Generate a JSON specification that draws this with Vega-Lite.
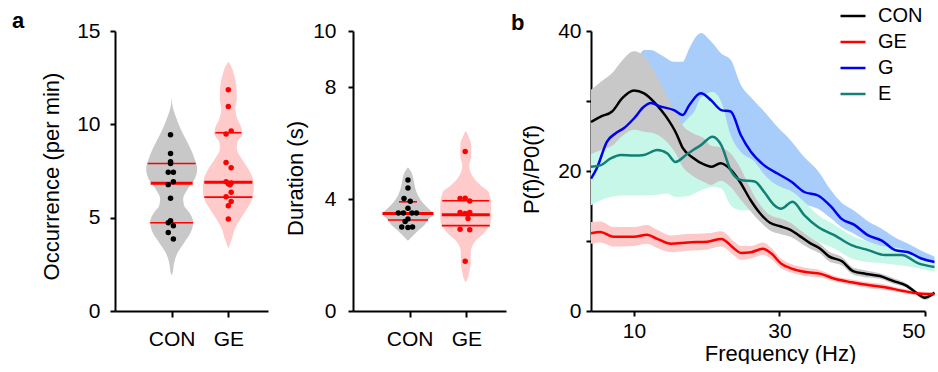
{
  "$schema": "https://vega.github.io/schema/vega-lite/v6.json",
  "background": "white",
  "padding": {"left": 12, "top": 2, "right": 0, "bottom": 0},
  "bounds": "flush",
  "spacing": 85,
  "config": {
    "view": {"stroke": null},
    "font": "Liberation Sans",
    "axis": {"grid": false, "domainColor": "black", "domainWidth": 2, "tickColor": "black", "tickWidth": 2, "tickSize": 5, "labelColor": "black", "labelFontSize": 21, "titleFontSize": 22, "titleFontWeight": "normal", "titleColor": "black", "labelFont": "Liberation Sans", "titleFont": "Liberation Sans"}
  },
  "datasets": {
    "occV": [
      {"g": "CON", "v": 1.9, "w": 0}, {"g": "CON", "v": 2.05, "w": 0.035}, {"g": "CON", "v": 2.59, "w": 0.088}, {"g": "CON", "v": 3.13, "w": 0.212}, {"g": "CON", "v": 3.66, "w": 0.441}, {"g": "CON", "v": 4.2, "w": 0.671}, {"g": "CON", "v": 4.75, "w": 0.759}, {"g": "CON", "v": 5.29, "w": 0.618}, {"g": "CON", "v": 5.64, "w": 0.441}, {"g": "CON", "v": 6.0, "w": 0.406}, {"g": "CON", "v": 6.54, "w": 0.565}, {"g": "CON", "v": 7.07, "w": 0.812}, {"g": "CON", "v": 7.61, "w": 0.9}, {"g": "CON", "v": 8.14, "w": 0.812}, {"g": "CON", "v": 8.68, "w": 0.671}, {"g": "CON", "v": 9.21, "w": 0.494}, {"g": "CON", "v": 9.75, "w": 0.318}, {"g": "CON", "v": 10.29, "w": 0.176}, {"g": "CON", "v": 10.82, "w": 0.053}, {"g": "CON", "v": 11.46, "w": 0},
      {"g": "GE", "v": 3.35, "w": 0}, {"g": "GE", "v": 3.5, "w": 0.035}, {"g": "GE", "v": 3.86, "w": 0.124}, {"g": "GE", "v": 4.39, "w": 0.229}, {"g": "GE", "v": 4.93, "w": 0.424}, {"g": "GE", "v": 5.46, "w": 0.653}, {"g": "GE", "v": 6.0, "w": 0.847}, {"g": "GE", "v": 6.54, "w": 0.9}, {"g": "GE", "v": 7.07, "w": 0.865}, {"g": "GE", "v": 7.61, "w": 0.706}, {"g": "GE", "v": 8.14, "w": 0.476}, {"g": "GE", "v": 8.68, "w": 0.3}, {"g": "GE", "v": 9.04, "w": 0.318}, {"g": "GE", "v": 9.48, "w": 0.494}, {"g": "GE", "v": 9.75, "w": 0.476}, {"g": "GE", "v": 10.29, "w": 0.318}, {"g": "GE", "v": 10.82, "w": 0.247}, {"g": "GE", "v": 11.36, "w": 0.3}, {"g": "GE", "v": 12.07, "w": 0.282}, {"g": "GE", "v": 12.6, "w": 0.212}, {"g": "GE", "v": 13.14, "w": 0.088}, {"g": "GE", "v": 13.35, "w": 0}
    ],
    "occL": [
      {"g": "CON", "v": 7.9, "w": 0.847, "pos": 1, "k": "q"}, {"g": "CON", "v": 6.85, "w": 0.741, "pos": 1, "k": "m"}, {"g": "CON", "v": 4.73, "w": 0.759, "pos": 1, "k": "q"},
      {"g": "GE", "v": 9.55, "w": 0.459, "pos": 2, "k": "q"}, {"g": "GE", "v": 6.9, "w": 0.847, "pos": 2, "k": "m"}, {"g": "GE", "v": 6.1, "w": 0.847, "pos": 2, "k": "q"}
    ],
    "occP": [
      {"g": "CON", "v": 9.44, "x": 0.98}, {"g": "CON", "v": 8.44, "x": 0.98}, {"g": "CON", "v": 8.0, "x": 0.98}, {"g": "CON", "v": 7.9, "x": 0.98}, {"g": "CON", "v": 7.43, "x": 0.94}, {"g": "CON", "v": 7.43, "x": 1.03}, {"g": "CON", "v": 6.93, "x": 1.03}, {"g": "CON", "v": 6.77, "x": 0.94}, {"g": "CON", "v": 6.04, "x": 0.98}, {"g": "CON", "v": 4.84, "x": 0.98}, {"g": "CON", "v": 4.73, "x": 0.94}, {"g": "CON", "v": 4.57, "x": 1.03}, {"g": "CON", "v": 4.2, "x": 0.94}, {"g": "CON", "v": 3.86, "x": 1.03},
      {"g": "GE", "v": 11.85, "x": 2.0}, {"g": "GE", "v": 10.95, "x": 2.0}, {"g": "GE", "v": 9.65, "x": 2.05}, {"g": "GE", "v": 9.48, "x": 1.96}, {"g": "GE", "v": 7.95, "x": 1.96}, {"g": "GE", "v": 7.68, "x": 2.05}, {"g": "GE", "v": 6.93, "x": 1.96}, {"g": "GE", "v": 6.82, "x": 2.0}, {"g": "GE", "v": 6.76, "x": 2.03}, {"g": "GE", "v": 6.86, "x": 2.05}, {"g": "GE", "v": 6.36, "x": 2.05}, {"g": "GE", "v": 6.12, "x": 1.96}, {"g": "GE", "v": 5.86, "x": 2.05}, {"g": "GE", "v": 5.64, "x": 2.0}, {"g": "GE", "v": 4.93, "x": 2.0}
    ],
    "durV": [
      {"g": "CON", "v": 2.51, "w": 0}, {"g": "CON", "v": 2.65, "w": 0.141}, {"g": "CON", "v": 2.83, "w": 0.318}, {"g": "CON", "v": 3.05, "w": 0.565}, {"g": "CON", "v": 3.29, "w": 0.741}, {"g": "CON", "v": 3.46, "w": 0.9}, {"g": "CON", "v": 3.64, "w": 0.741}, {"g": "CON", "v": 3.9, "w": 0.494}, {"g": "CON", "v": 4.25, "w": 0.3}, {"g": "CON", "v": 4.6, "w": 0.212}, {"g": "CON", "v": 4.95, "w": 0.124}, {"g": "CON", "v": 5.13, "w": 0},
      {"g": "GE", "v": 1.03, "w": 0}, {"g": "GE", "v": 1.08, "w": 0.035}, {"g": "GE", "v": 1.38, "w": 0.124}, {"g": "GE", "v": 1.74, "w": 0.176}, {"g": "GE", "v": 2.1, "w": 0.176}, {"g": "GE", "v": 2.45, "w": 0.3}, {"g": "GE", "v": 2.81, "w": 0.671}, {"g": "GE", "v": 3.29, "w": 0.9}, {"g": "GE", "v": 3.76, "w": 0.9}, {"g": "GE", "v": 4.24, "w": 0.812}, {"g": "GE", "v": 4.48, "w": 0.529}, {"g": "GE", "v": 4.83, "w": 0.229}, {"g": "GE", "v": 5.19, "w": 0.124}, {"g": "GE", "v": 5.55, "w": 0.194}, {"g": "GE", "v": 5.9, "w": 0.194}, {"g": "GE", "v": 6.26, "w": 0.088}, {"g": "GE", "v": 6.44, "w": 0}
    ],
    "durL": [
      {"g": "CON", "v": 3.9, "w": 0.318, "pos": 0.97, "k": "q"}, {"g": "CON", "v": 3.48, "w": 0.9, "pos": 0.97, "k": "m"}, {"g": "CON", "v": 3.25, "w": 0.706, "pos": 0.97, "k": "q"},
      {"g": "GE", "v": 3.94, "w": 0.829, "pos": 1.99, "k": "q"}, {"g": "GE", "v": 3.44, "w": 0.847, "pos": 1.99, "k": "m"}, {"g": "GE", "v": 3.05, "w": 0.847, "pos": 1.99, "k": "q"}
    ],
    "durP": [
      {"g": "CON", "v": 4.68, "x": 0.97}, {"g": "CON", "v": 4.39, "x": 0.97}, {"g": "CON", "v": 4.02, "x": 0.9}, {"g": "CON", "v": 3.92, "x": 1.01}, {"g": "CON", "v": 3.67, "x": 0.97}, {"g": "CON", "v": 3.5, "x": 0.8}, {"g": "CON", "v": 3.5, "x": 0.89}, {"g": "CON", "v": 3.5, "x": 1.04}, {"g": "CON", "v": 3.5, "x": 1.12}, {"g": "CON", "v": 3.29, "x": 0.97}, {"g": "CON", "v": 3.2, "x": 0.92}, {"g": "CON", "v": 3.0, "x": 0.86}, {"g": "CON", "v": 2.98, "x": 0.97}, {"g": "CON", "v": 3.0, "x": 1.05},
      {"g": "GE", "v": 5.7, "x": 1.98}, {"g": "GE", "v": 4.02, "x": 1.89}, {"g": "GE", "v": 4.03, "x": 1.98}, {"g": "GE", "v": 3.93, "x": 2.06}, {"g": "GE", "v": 3.52, "x": 1.89}, {"g": "GE", "v": 3.48, "x": 1.98}, {"g": "GE", "v": 3.52, "x": 2.06}, {"g": "GE", "v": 3.3, "x": 2.03}, {"g": "GE", "v": 2.92, "x": 1.89}, {"g": "GE", "v": 2.9, "x": 2.06}, {"g": "GE", "v": 1.78, "x": 1.98}
    ],
    "psd": [
      {"g": "CON", "f": 4.1, "m": 27.0, "lo": 22.4, "hi": 31.6}, {"g": "CON", "f": 5.5, "m": 27.8, "lo": 23.0, "hi": 32.8}, {"g": "CON", "f": 7.0, "m": 28.5, "lo": 23.6, "hi": 34.0}, {"g": "CON", "f": 8.4, "m": 30.4, "lo": 25.0, "hi": 35.8}, {"g": "CON", "f": 10.0, "m": 31.5, "lo": 25.9, "hi": 37.1}, {"g": "CON", "f": 11.4, "m": 31.1, "lo": 25.6, "hi": 36.4}, {"g": "CON", "f": 13.0, "m": 29.6, "lo": 25.3, "hi": 33.8}, {"g": "CON", "f": 14.4, "m": 27.8, "lo": 24.3, "hi": 31.0}, {"g": "CON", "f": 15.8, "m": 25.4, "lo": 22.4, "hi": 28.2}, {"g": "CON", "f": 16.7, "m": 23.3, "lo": 20.6, "hi": 26.5}, {"g": "CON", "f": 18.1, "m": 21.9, "lo": 19.3, "hi": 25.4}, {"g": "CON", "f": 19.7, "m": 20.9, "lo": 18.4, "hi": 24.6}, {"g": "CON", "f": 20.6, "m": 20.6, "lo": 18.0, "hi": 23.6}, {"g": "CON", "f": 21.9, "m": 21.1, "lo": 18.6, "hi": 23.4}, {"g": "CON", "f": 23.3, "m": 20.2, "lo": 17.7, "hi": 22.5}, {"g": "CON", "f": 24.6, "m": 18.4, "lo": 16.0, "hi": 20.5}, {"g": "CON", "f": 26.0, "m": 15.9, "lo": 14.3, "hi": 17.5}, {"g": "CON", "f": 27.3, "m": 14.0, "lo": 12.8, "hi": 15.2}, {"g": "CON", "f": 28.7, "m": 12.6, "lo": 11.5, "hi": 13.7}, {"g": "CON", "f": 30.1, "m": 12.1, "lo": 11.0, "hi": 13.2}, {"g": "CON", "f": 31.5, "m": 11.6, "lo": 10.6, "hi": 12.6}, {"g": "CON", "f": 32.8, "m": 10.7, "lo": 9.8, "hi": 11.6}, {"g": "CON", "f": 34.2, "m": 9.7, "lo": 8.9, "hi": 10.5}, {"g": "CON", "f": 35.6, "m": 8.9, "lo": 8.2, "hi": 9.6}, {"g": "CON", "f": 36.8, "m": 7.8, "lo": 7.1, "hi": 8.5}, {"g": "CON", "f": 38.6, "m": 7.1, "lo": 6.5, "hi": 7.7}, {"g": "CON", "f": 40.1, "m": 5.7, "lo": 5.2, "hi": 6.2}, {"g": "CON", "f": 41.9, "m": 5.3, "lo": 4.8, "hi": 5.8}, {"g": "CON", "f": 43.8, "m": 5.0, "lo": 4.6, "hi": 5.4}, {"g": "CON", "f": 45.6, "m": 4.3, "lo": 3.9, "hi": 4.7}, {"g": "CON", "f": 47.5, "m": 3.6, "lo": 3.3, "hi": 3.9}, {"g": "CON", "f": 48.8, "m": 2.6, "lo": 2.3, "hi": 2.9}, {"g": "CON", "f": 50.0, "m": 1.9, "lo": 1.6, "hi": 2.2}, {"g": "CON", "f": 51.3, "m": 2.6, "lo": 2.3, "hi": 2.9},
      {"g": "GE", "f": 4.1, "m": 11.1, "lo": 9.6, "hi": 12.7}, {"g": "GE", "f": 5.4, "m": 11.3, "lo": 9.8, "hi": 12.8}, {"g": "GE", "f": 7.2, "m": 10.6, "lo": 9.2, "hi": 12.0}, {"g": "GE", "f": 10.0, "m": 10.6, "lo": 9.3, "hi": 12.0}, {"g": "GE", "f": 11.8, "m": 10.9, "lo": 9.6, "hi": 12.3}, {"g": "GE", "f": 13.2, "m": 10.3, "lo": 9.0, "hi": 11.6}, {"g": "GE", "f": 15.1, "m": 9.6, "lo": 8.4, "hi": 10.8}, {"g": "GE", "f": 17.4, "m": 9.8, "lo": 8.6, "hi": 11.0}, {"g": "GE", "f": 20.1, "m": 9.9, "lo": 8.8, "hi": 11.1}, {"g": "GE", "f": 22.0, "m": 10.3, "lo": 9.2, "hi": 11.4}, {"g": "GE", "f": 23.8, "m": 8.9, "lo": 7.9, "hi": 9.9}, {"g": "GE", "f": 24.7, "m": 8.3, "lo": 7.3, "hi": 9.3}, {"g": "GE", "f": 26.1, "m": 8.4, "lo": 7.5, "hi": 9.3}, {"g": "GE", "f": 27.7, "m": 8.9, "lo": 8.0, "hi": 9.8}, {"g": "GE", "f": 28.9, "m": 8.2, "lo": 7.4, "hi": 9.0}, {"g": "GE", "f": 30.2, "m": 6.8, "lo": 6.1, "hi": 7.5}, {"g": "GE", "f": 31.6, "m": 6.1, "lo": 5.5, "hi": 6.7}, {"g": "GE", "f": 33.4, "m": 5.6, "lo": 5.0, "hi": 6.2}, {"g": "GE", "f": 35.7, "m": 5.3, "lo": 4.8, "hi": 5.8}, {"g": "GE", "f": 37.6, "m": 4.6, "lo": 4.2, "hi": 5.0}, {"g": "GE", "f": 39.9, "m": 4.1, "lo": 3.7, "hi": 4.5}, {"g": "GE", "f": 42.2, "m": 3.7, "lo": 3.3, "hi": 4.1}, {"g": "GE", "f": 44.5, "m": 3.4, "lo": 3.0, "hi": 3.8}, {"g": "GE", "f": 46.8, "m": 2.9, "lo": 2.6, "hi": 3.2}, {"g": "GE", "f": 49.1, "m": 2.5, "lo": 2.2, "hi": 2.8}, {"g": "GE", "f": 51.3, "m": 2.4, "lo": 2.1, "hi": 2.7},
      {"g": "G", "f": 4.1, "m": 18.9, "lo": 15.1, "hi": 22.7}, {"g": "G", "f": 4.9, "m": 20.4, "lo": 16.0, "hi": 24.8}, {"g": "G", "f": 6.3, "m": 24.2, "lo": 18.5, "hi": 29.5}, {"g": "G", "f": 7.5, "m": 25.4, "lo": 19.5, "hi": 31.5}, {"g": "G", "f": 8.6, "m": 26.1, "lo": 20.0, "hi": 33.0}, {"g": "G", "f": 10.0, "m": 27.5, "lo": 20.8, "hi": 35.0}, {"g": "G", "f": 11.4, "m": 29.2, "lo": 21.5, "hi": 37.3}, {"g": "G", "f": 12.3, "m": 29.7, "lo": 22.0, "hi": 37.3}, {"g": "G", "f": 13.7, "m": 29.2, "lo": 22.0, "hi": 36.6}, {"g": "G", "f": 15.5, "m": 28.7, "lo": 22.0, "hi": 35.6}, {"g": "G", "f": 16.7, "m": 28.0, "lo": 21.5, "hi": 35.6}, {"g": "G", "f": 17.6, "m": 29.4, "lo": 22.5, "hi": 37.5}, {"g": "G", "f": 19.2, "m": 31.1, "lo": 23.5, "hi": 39.7}, {"g": "G", "f": 20.6, "m": 30.1, "lo": 23.0, "hi": 38.5}, {"g": "G", "f": 22.0, "m": 28.7, "lo": 22.5, "hi": 36.8}, {"g": "G", "f": 23.3, "m": 28.5, "lo": 22.5, "hi": 35.9}, {"g": "G", "f": 24.7, "m": 25.1, "lo": 21.0, "hi": 32.3}, {"g": "G", "f": 26.1, "m": 22.7, "lo": 20.0, "hi": 30.5}, {"g": "G", "f": 27.9, "m": 20.8, "lo": 18.8, "hi": 28.5}, {"g": "G", "f": 29.8, "m": 19.6, "lo": 17.5, "hi": 26.2}, {"g": "G", "f": 31.6, "m": 18.5, "lo": 16.5, "hi": 24.3}, {"g": "G", "f": 33.4, "m": 17.0, "lo": 15.3, "hi": 22.0}, {"g": "G", "f": 35.3, "m": 16.5, "lo": 14.6, "hi": 20.0}, {"g": "G", "f": 37.1, "m": 14.9, "lo": 13.2, "hi": 17.2}, {"g": "G", "f": 38.5, "m": 13.2, "lo": 12.0, "hi": 15.5}, {"g": "G", "f": 40.3, "m": 12.3, "lo": 11.0, "hi": 14.3}, {"g": "G", "f": 42.2, "m": 10.8, "lo": 9.9, "hi": 12.8}, {"g": "G", "f": 44.0, "m": 10.1, "lo": 9.2, "hi": 11.8}, {"g": "G", "f": 45.9, "m": 8.7, "lo": 8.0, "hi": 10.5}, {"g": "G", "f": 47.7, "m": 8.4, "lo": 7.6, "hi": 9.6}, {"g": "G", "f": 49.5, "m": 7.5, "lo": 6.9, "hi": 8.6}, {"g": "G", "f": 51.3, "m": 7.0, "lo": 6.5, "hi": 7.8},
      {"g": "E", "f": 4.1, "m": 20.6, "lo": 15.1, "hi": 26.0}, {"g": "E", "f": 5.4, "m": 20.8, "lo": 15.8, "hi": 26.3}, {"g": "E", "f": 6.8, "m": 21.8, "lo": 16.3, "hi": 27.0}, {"g": "E", "f": 8.2, "m": 22.3, "lo": 16.5, "hi": 27.5}, {"g": "E", "f": 10.0, "m": 22.2, "lo": 16.5, "hi": 27.8}, {"g": "E", "f": 11.4, "m": 22.3, "lo": 16.5, "hi": 28.0}, {"g": "E", "f": 13.2, "m": 23.0, "lo": 16.6, "hi": 27.5}, {"g": "E", "f": 14.6, "m": 22.5, "lo": 16.8, "hi": 26.5}, {"g": "E", "f": 15.7, "m": 21.3, "lo": 16.3, "hi": 26.0}, {"g": "E", "f": 17.4, "m": 22.5, "lo": 16.4, "hi": 27.5}, {"g": "E", "f": 18.3, "m": 23.1, "lo": 16.8, "hi": 28.5}, {"g": "E", "f": 19.2, "m": 23.7, "lo": 17.2, "hi": 30.5}, {"g": "E", "f": 20.8, "m": 24.9, "lo": 17.7, "hi": 31.3}, {"g": "E", "f": 22.0, "m": 23.7, "lo": 17.5, "hi": 29.9}, {"g": "E", "f": 23.3, "m": 20.1, "lo": 15.1, "hi": 25.1}, {"g": "E", "f": 24.7, "m": 18.7, "lo": 14.4, "hi": 22.7}, {"g": "E", "f": 26.6, "m": 18.5, "lo": 14.4, "hi": 21.3}, {"g": "E", "f": 27.9, "m": 17.0, "lo": 14.0, "hi": 19.5}, {"g": "E", "f": 29.3, "m": 15.1, "lo": 13.2, "hi": 18.2}, {"g": "E", "f": 30.2, "m": 14.6, "lo": 12.9, "hi": 17.7}, {"g": "E", "f": 31.8, "m": 15.6, "lo": 12.0, "hi": 17.0}, {"g": "E", "f": 33.4, "m": 13.7, "lo": 10.9, "hi": 15.6}, {"g": "E", "f": 35.3, "m": 12.0, "lo": 9.9, "hi": 13.7}, {"g": "E", "f": 37.6, "m": 10.8, "lo": 8.9, "hi": 12.3}, {"g": "E", "f": 39.9, "m": 9.4, "lo": 7.5, "hi": 10.8}, {"g": "E", "f": 42.2, "m": 8.7, "lo": 7.0, "hi": 9.9}, {"g": "E", "f": 44.5, "m": 8.0, "lo": 6.8, "hi": 9.2}, {"g": "E", "f": 46.8, "m": 8.0, "lo": 6.5, "hi": 8.9}, {"g": "E", "f": 49.1, "m": 6.8, "lo": 6.1, "hi": 7.7}, {"g": "E", "f": 51.3, "m": 6.3, "lo": 5.6, "hi": 7.0}
    ]
  },
  "hconcat": [
    {
      "width": 153, "height": 280,
      "title": {"text": "a", "anchor": "start", "frame": "group", "fontSize": 22, "fontWeight": "bold", "color": "black", "baseline": "alphabetic", "offset": 0, "dx": -103, "dy": 30},
      "encoding": {"y": {"field": "v", "type": "quantitative", "scale": {"domain": [0, 15]}, "axis": {"values": [0, 5, 10, 15], "title": "Occurrence (per min)", "labelPadding": 10, "titlePadding": 13, "titleY": 145}}},
      "layer": [
        {"data": {"name": "occV"}, "transform": [{"filter": "datum.g === 'CON'"}], "mark": {"type": "area", "orient": "horizontal", "color": "#c8c8c8", "interpolate": "monotone"}, "encoding": {"x": {"field": "w", "type": "quantitative", "stack": "center", "scale": {"domain": [-0.55, 2.15]}, "axis": null}}},
        {"data": {"name": "occV"}, "transform": [{"filter": "datum.g === 'GE'"}], "mark": {"type": "area", "orient": "horizontal", "color": "#ffcaca", "interpolate": "monotone"}, "encoding": {"x": {"field": "w", "type": "quantitative", "stack": "center", "scale": {"domain": [-1.55, 1.15]}, "axis": null}}},
        {"data": {"name": "occL"}, "transform": [{"filter": "datum.k === 'q'"}], "mark": {"type": "tick", "orient": "horizontal", "color": "#ff0000", "thickness": 1.6, "opacity": 1}, "encoding": {"x": {"field": "pos", "type": "quantitative", "scale": {"domain": [0, 2.7]}, "axis": null}, "size": {"field": "w", "type": "quantitative", "scale": {"domain": [0, 1], "range": [0, 56.67]}, "legend": null}}},
        {"data": {"name": "occL"}, "transform": [{"filter": "datum.k === 'm'"}], "mark": {"type": "tick", "orient": "horizontal", "color": "#ff0000", "thickness": 3, "opacity": 1}, "encoding": {"x": {"field": "pos", "type": "quantitative", "scale": {"domain": [0, 2.7]}, "axis": null}, "size": {"field": "w", "type": "quantitative", "scale": {"domain": [0, 1], "range": [0, 56.67]}, "legend": null}}},
        {"data": {"name": "occP"}, "mark": {"type": "circle", "size": 30, "opacity": 1}, "encoding": {"x": {"field": "x", "type": "quantitative", "scale": {"domain": [0, 2.7]}, "axis": {"values": [1, 2], "labelExpr": "datum.value === 1 ? 'CON' : 'GE'", "title": null, "tickSize": 6, "labelPadding": 11}}, "color": {"condition": {"test": "datum.g === 'CON'", "value": "#000000"}, "value": "#ff0000"}}}
      ],
      "resolve": {"scale": {"x": "independent", "size": "independent"}}
    },
    {
      "width": 153, "height": 280,
      "encoding": {"y": {"field": "v", "type": "quantitative", "scale": {"domain": [0, 10]}, "axis": {"values": [0, 4, 8, 10], "title": "Duration (s)", "labelPadding": 12, "titlePadding": 5, "titleY": 147}}},
      "layer": [
        {"data": {"name": "durV"}, "transform": [{"filter": "datum.g === 'CON'"}], "mark": {"type": "area", "orient": "horizontal", "color": "#c8c8c8", "interpolate": "monotone"}, "encoding": {"x": {"field": "w", "type": "quantitative", "stack": "center", "scale": {"domain": [-0.52, 2.18]}, "axis": null}}},
        {"data": {"name": "durV"}, "transform": [{"filter": "datum.g === 'GE'"}], "mark": {"type": "area", "orient": "horizontal", "color": "#ffcaca", "interpolate": "monotone"}, "encoding": {"x": {"field": "w", "type": "quantitative", "stack": "center", "scale": {"domain": [-1.54, 1.16]}, "axis": null}}},
        {"data": {"name": "durL"}, "transform": [{"filter": "datum.k === 'q'"}], "mark": {"type": "tick", "orient": "horizontal", "color": "#ff0000", "thickness": 1.6, "opacity": 1}, "encoding": {"x": {"field": "pos", "type": "quantitative", "scale": {"domain": [0, 2.7]}, "axis": null}, "size": {"field": "w", "type": "quantitative", "scale": {"domain": [0, 1], "range": [0, 56.67]}, "legend": null}}},
        {"data": {"name": "durL"}, "transform": [{"filter": "datum.k === 'm'"}], "mark": {"type": "tick", "orient": "horizontal", "color": "#ff0000", "thickness": 3, "opacity": 1}, "encoding": {"x": {"field": "pos", "type": "quantitative", "scale": {"domain": [0, 2.7]}, "axis": null}, "size": {"field": "w", "type": "quantitative", "scale": {"domain": [0, 1], "range": [0, 56.67]}, "legend": null}}},
        {"data": {"name": "durP"}, "mark": {"type": "circle", "size": 30, "opacity": 1}, "encoding": {"x": {"field": "x", "type": "quantitative", "scale": {"domain": [0, 2.7]}, "axis": {"values": [1, 2], "labelExpr": "datum.value === 1 ? 'CON' : 'GE'", "title": null, "tickSize": 6, "labelPadding": 11}}, "color": {"condition": {"test": "datum.g === 'CON'", "value": "#000000"}, "value": "#ff0000"}}}
      ],
      "resolve": {"scale": {"x": "independent", "size": "independent"}}
    },
    {
      "width": 334, "height": 280,
      "title": {"text": "b", "anchor": "start", "frame": "group", "fontSize": 22, "fontWeight": "bold", "color": "black", "baseline": "alphabetic", "offset": 0, "dx": -80, "dy": 32},
      "data": {"name": "psd"},
      "encoding": {"x": {"field": "f", "type": "quantitative", "scale": {"domain": [4.1, 50]}, "axis": {"values": [10, 30, 50], "title": "Frequency (Hz)", "labelPadding": 4, "titlePadding": 2, "titleX": 189}}},
      "layer": [
        {"transform": [{"filter": "datum.g === 'G'"}], "mark": {"type": "area", "color": "#a9cdfa", "opacity": 1, "interpolate": "monotone"}, "encoding": {"y": {"field": "lo", "type": "quantitative", "scale": {"domain": [0, 40]}, "axis": {"values": [0, 10, 20, 30, 40], "labelExpr": "datum.value % 20 === 0 ? datum.label : ''", "title": "P(f)/P0(f)", "labelPadding": 5, "titlePadding": 14, "titleY": 138}}, "y2": {"field": "hi"}}},
        {"transform": [{"filter": "datum.g === 'E'"}], "mark": {"type": "area", "color": "#c6f7e9", "opacity": 1, "interpolate": "monotone"}, "encoding": {"y": {"field": "lo", "type": "quantitative", "scale": {"domain": [0, 40]}, "axis": {"values": [0, 10, 20, 30, 40], "labelExpr": "datum.value % 20 === 0 ? datum.label : ''", "title": "P(f)/P0(f)", "labelPadding": 5, "titlePadding": 14, "titleY": 138}}, "y2": {"field": "hi"}}},
        {"transform": [{"filter": "datum.g === 'CON'"}], "mark": {"type": "area", "color": "#c8c8c8", "opacity": 1, "interpolate": "monotone"}, "encoding": {"y": {"field": "lo", "type": "quantitative", "scale": {"domain": [0, 40]}, "axis": {"values": [0, 10, 20, 30, 40], "labelExpr": "datum.value % 20 === 0 ? datum.label : ''", "title": "P(f)/P0(f)", "labelPadding": 5, "titlePadding": 14, "titleY": 138}}, "y2": {"field": "hi"}}},
        {"transform": [{"filter": "datum.g === 'GE'"}], "mark": {"type": "area", "color": "#fcc8c8", "opacity": 1, "interpolate": "monotone"}, "encoding": {"y": {"field": "lo", "type": "quantitative", "scale": {"domain": [0, 40]}, "axis": {"values": [0, 10, 20, 30, 40], "labelExpr": "datum.value % 20 === 0 ? datum.label : ''", "title": "P(f)/P0(f)", "labelPadding": 5, "titlePadding": 14, "titleY": 138}}, "y2": {"field": "hi"}}},
        {"mark": {"type": "line", "strokeWidth": 2.5, "interpolate": "monotone"}, "encoding": {"y": {"field": "m", "type": "quantitative", "scale": {"domain": [0, 40]}, "axis": {"values": [0, 10, 20, 30, 40], "labelExpr": "datum.value % 20 === 0 ? datum.label : ''", "title": "P(f)/P0(f)", "labelPadding": 5, "titlePadding": 14, "titleY": 138}}, "color": {"field": "g", "type": "nominal", "scale": {"domain": ["CON", "GE", "G", "E"], "range": ["#000000", "#ff0000", "#0000f0", "#138077"]}, "legend": {"orient": "none", "legendX": 724, "legendY": -29, "title": null, "symbolType": "stroke", "symbolStrokeWidth": 2.5, "symbolSize": 625, "labelFontSize": 20, "labelOffset": 11, "rowPadding": 2, "padding": 0, "labelFont": "Liberation Sans", "labelColor": "black"}}}}
      ]
    }
  ]
}
